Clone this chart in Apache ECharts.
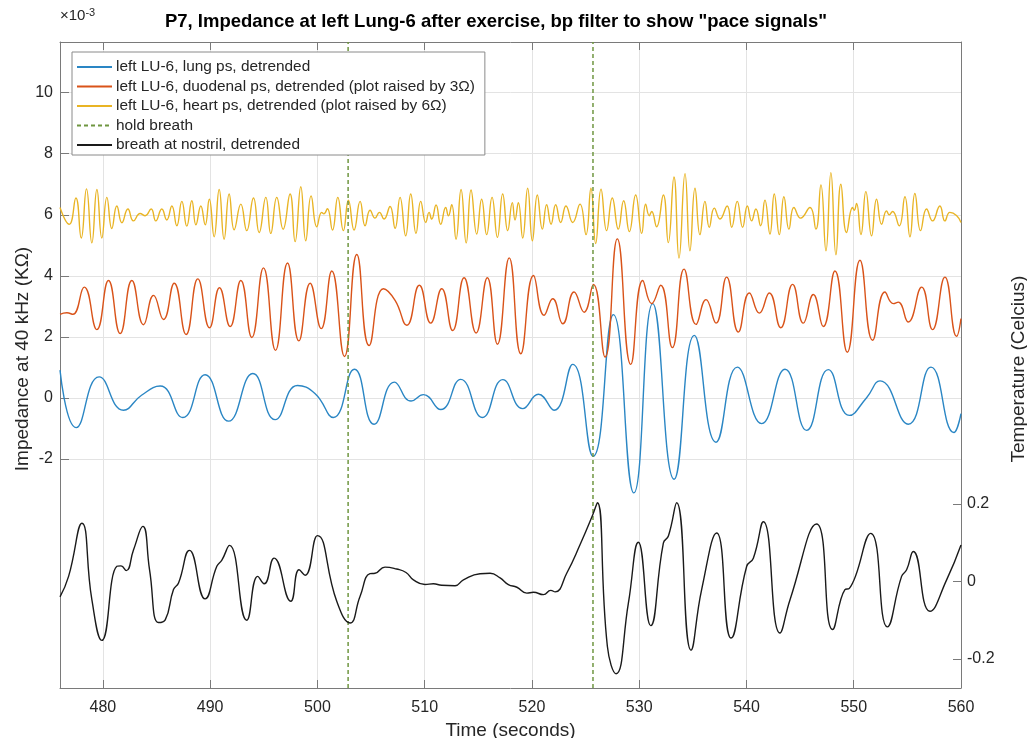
<!DOCTYPE html>
<html>
<head>
<meta charset="utf-8">
<script src="https://cdn.jsdelivr.net/npm/echarts@6/dist/echarts.min.js"></script>
<style>html,body{margin:0;padding:0;background:#fff;overflow:hidden}#c{width:1027px;height:738px}</style>
</head>
<body>
<div id="c"></div>
<script>
// ---- data ----
const xTicks = [480, 490, 500, 510, 520, 530, 540, 550, 560];
const leftTicks = [-2, 0, 2, 4, 6, 8, 10];
const rightTicks = [-0.2, 0, 0.2];
const holdBreath = [502.86, 525.69];

// lung ps (x1e-3), [time, value]
const lungPs = [
[476.0,0.91],[477.5,-0.97],[479.65,0.69],[481.92,-0.40],[483.6,0.09],[485.34,0.39],[487.45,-0.64],
[489.53,0.76],[491.71,-0.76],[493.98,0.80],[496.06,-0.71],[498.14,0.41],[499.79,0.14],[501.49,-0.64],
[503.45,0.94],[505.28,-0.86],[507.18,0.52],[508.73,-0.10],[509.88,0.11],[511.5,-0.38],[513.36,0.61],
[515.38,-0.64],[517.28,0.60],[519.14,-0.35],[520.6,0.12],[522.06,-0.40],[523.8,1.10],[525.7,-1.91],
[527.59,2.73],[529.5,-3.11],[531.26,3.09],[533.25,-2.66],[535.14,2.05],[537.16,-1.45],[539.15,1.01],
[541.42,-0.84],[543.59,0.94],[545.61,-1.06],[547.63,0.93],[549.59,-0.57],[551.2,0.01],[552.45,0.56],
[555.08,-0.86],[557.2,1.01],[559.34,-1.13],[560.0,-0.51]
];

// duodenal ps, plot raised by 3
const duodenalPs = [
[476.0,2.74],[476.64,2.79],[477.2,2.74],[478.26,3.63],[479.44,2.24],[480.52,3.85],[481.61,2.11],
[482.7,3.85],[483.79,2.40],[484.72,3.36],[485.65,2.57],[486.65,3.76],[487.76,2.08],[488.85,3.90],
[489.94,2.30],[490.87,3.61],[491.86,2.34],[492.86,3.85],[493.88,1.98],[494.97,4.26],[496.09,1.56],
[497.21,4.42],[498.27,1.87],[499.32,3.76],[500.35,2.27],[501.34,4.16],[502.52,1.36],[503.67,4.70],
[504.82,1.72],[506.15,3.58],[507.24,3.20],[508.33,2.38],[509.5,3.69],[510.56,2.45],[511.59,3.58],
[512.61,2.21],[513.67,3.94],[514.79,2.13],[515.84,3.94],[516.78,1.76],[517.88,4.59],[518.96,1.45],
[520.14,4.01],[521.13,2.71],[521.94,3.25],[522.87,2.43],[523.93,3.47],[524.86,2.81],[525.73,3.72],
[526.82,1.34],[527.96,5.21],[529.21,1.10],[530.33,3.85],[531.16,3.09],[532.0,3.69],[533.09,1.65],
[534.18,4.22],[535.3,2.41],[536.23,3.22],[537.16,2.45],[538.15,3.96],[539.24,2.16],[540.27,3.44],
[541.2,2.78],[542.13,3.44],[543.19,2.30],[544.3,3.72],[545.3,2.45],[546.23,3.39],[547.16,2.34],
[548.25,4.16],[549.4,1.50],[550.58,4.51],[551.76,1.89],[552.91,3.47],[553.69,3.09],[554.15,3.14],
[555.08,2.49],[556.33,3.63],[557.35,2.24],[558.5,3.96],[559.59,2.02],[560.0,2.60]
];

// heart ps, plot raised by 6
const heartPs = [
[476.0,6.24],[476.86,5.69],[477.48,6.55],[477.98,5.24],[478.47,6.85],[478.97,5.08],[479.44,6.83],
[479.9,5.24],[480.37,6.57],[480.83,5.55],[481.3,6.29],[481.77,5.74],[482.33,6.19],[482.85,5.80],
[483.47,6.04],[483.94,5.97],[484.5,6.19],[484.93,5.80],[485.49,6.19],[485.96,5.83],[486.43,6.29],
[486.89,5.64],[487.36,6.44],[487.82,5.63],[488.29,6.46],[488.67,5.67],[489.13,6.29],[489.54,5.67],
[489.92,6.51],[490.37,5.28],[490.84,6.83],[491.3,5.20],[491.77,6.68],[492.24,5.51],[492.86,6.35],
[493.41,5.48],[494.04,6.55],[494.57,5.42],[495.19,6.57],[495.65,5.39],[496.21,6.57],[496.8,5.53],
[497.45,6.68],[497.92,5.12],[498.45,6.92],[498.91,5.15],[499.41,6.62],[499.94,5.61],[500.4,6.08],
[500.6,6.03],[500.93,6.20],[501.4,5.50],[501.9,6.57],[502.42,5.48],[502.89,6.48],[503.42,5.50],
[503.98,6.44],[504.44,5.64],[504.91,6.15],[505.37,5.89],[505.78,6.08],[506.21,5.86],[506.77,6.27],
[507.24,5.56],[507.7,6.57],[508.23,5.31],[508.7,6.68],[509.19,5.39],[509.63,6.44],[510.1,5.75],
[510.41,6.08],[510.65,5.86],[511.06,6.32],[511.49,5.69],[511.96,6.24],[512.21,5.97],[512.52,6.33],
[512.92,5.20],[513.39,6.83],[513.87,5.08],[514.32,6.81],[514.85,5.37],[515.31,6.51],[515.78,5.35],
[516.28,6.57],[516.78,5.26],[517.27,6.68],[517.74,5.48],[518.17,6.40],[518.42,5.83],[518.73,6.40],
[519.14,5.24],[519.6,6.87],[520.04,5.15],[520.5,6.65],[520.97,5.53],[521.37,6.33],[521.78,5.69],
[522.21,6.33],[522.68,5.75],[523.17,6.29],[523.8,5.75],[524.48,6.35],[525.04,5.35],[525.5,6.87],
[525.94,5.06],[526.44,6.84],[526.96,5.48],[527.49,6.55],[528.05,5.53],[528.55,6.46],[529.08,5.45],
[529.67,6.65],[530.23,5.39],[530.6,6.35],[530.94,5.97],[531.16,6.11],[531.62,5.61],[532.25,6.65],
[532.71,5.09],[533.24,7.24],[533.71,4.58],[534.27,7.35],[534.73,4.82],[535.2,6.87],[535.66,5.35],
[536.13,6.44],[536.53,5.59],[537.0,6.22],[537.53,5.86],[538.2,6.29],[538.62,5.59],[539.14,6.44],
[539.64,5.59],[540.08,6.29],[540.48,5.80],[540.88,6.19],[541.32,5.64],[541.72,6.48],[542.19,5.37],
[542.59,6.68],[543.06,5.35],[543.49,6.59],[543.96,5.53],[544.42,6.24],[545.05,5.89],[545.92,6.24],
[546.47,5.53],[546.94,6.98],[547.41,4.82],[547.87,7.38],[548.34,4.69],[548.8,7.0],[549.33,5.42],
[549.89,6.24],[550.05,6.15],[550.26,6.37],[550.67,5.35],[551.13,6.76],[551.66,5.31],[552.13,6.51],
[552.6,5.69],[553.06,6.13],[553.31,6.0],[553.62,6.11],[554.24,5.64],[554.77,6.59],[555.24,5.28],
[555.7,6.70],[556.23,5.48],[556.79,6.19],[557.35,5.80],[558.03,6.29],[558.5,5.80],[558.96,6.08],
[559.58,5.98],[560.0,5.75]
];

// breath at nostril (Celcius), right axis
const breath = [
[476.0,-0.040],[476.8,0.013],[478.04,0.150],[478.97,-0.047],[479.9,-0.152],[481.3,0.039],[481.69,0.040],
[482.17,0.028],[482.85,0.081],[483.72,0.142],[484.35,0.030],[485.18,-0.106],[485.81,-0.099],[486.58,-0.021],
[487.05,-0.004],[488.07,0.080],[489.53,-0.045],[490.62,0.039],[491.09,0.055],[491.8,0.093],[493.41,-0.100],
[494.44,0.013],[495.03,-0.006],[495.96,0.060],[497.51,-0.051],[498.29,0.030],[498.85,0.016],[500.0,0.118],
[501.8,-0.051],[503.04,-0.107],[503.97,-0.039],[504.9,0.020],[505.37,0.021],[506.3,0.037],[507.39,0.032],
[508.26,0.023],[508.95,0.004],[510.03,-0.008],[510.81,-0.006],[511.59,-0.010],[512.83,-0.011],[513.61,0.004],
[515.16,0.020],[516.1,0.021],[517.03,0.009],[517.8,-0.008],[518.6,-0.015],[519.52,-0.030],[520.14,-0.028],
[521.07,-0.034],[521.75,-0.023],[522.16,-0.027],[523.24,0.021],[524.49,0.095],[525.67,0.172],[526.1,0.203],
[527.03,-0.167],[527.84,-0.238],[528.99,-0.056],[529.92,0.101],[531.07,-0.114],[532.25,0.099],[532.72,0.117],
[533.49,0.203],[534.83,-0.177],[535.82,-0.021],[537.22,0.125],[538.56,-0.146],[540.02,0.039],[540.64,0.060],
[541.57,0.154],[543.12,-0.133],[544.06,-0.047],[546.54,0.148],[548.03,-0.124],[549.18,-0.021],[549.59,-0.018],
[551.58,0.124],[553.13,-0.117],[554.46,0.013],[554.93,0.030],[555.55,0.077],[557.1,-0.077],[558.66,0.004],
[560.0,0.094]
];

// ---- chart ----
const X_MIN = 476, X_MAX = 560;
const YL_MIN = -9.5, YL_MAX = 11.66;
const YR_MIN = -0.2747, YR_MAX = 1.3906;
const FONT = '"Liberation Sans", Arial, Helvetica, sans-serif';
const AX = '#7a7a7a', TXT = '#262626';

const chart = echarts.init(document.getElementById('c'), null, {renderer: 'canvas', width: 1027, height: 738});

const lineSeries = (name, data, color, yIdx) => ({
  name, type: 'line', data, xAxisIndex: 0, yAxisIndex: yIdx,
  showSymbol: false, symbol: 'none', smooth: 0.5, silent: true,
  lineStyle: {color, width: 1.4}, itemStyle: {color}
});

const holdSeries = holdBreath.map(t => ({
  name: 'hold breath', type: 'line', xAxisIndex: 0, yAxisIndex: 0,
  data: [[t, YL_MIN], [t, YL_MAX]], symbol: 'none', showSymbol: false, silent: true, z: 3,
  lineStyle: {color: '#6f9640', width: 1.5, type: [4, 3]}, itemStyle: {color: '#6f9640'}
}));

chart.setOption({
  animation: false,
  backgroundColor: '#fff',
  textStyle: {fontFamily: FONT},
  grid: {left: 60, top: 42, width: 901, height: 646, containLabel: false, outerBoundsMode: 'none'},
  graphic: [
    {type: 'text', x: 496, y: 22, style: {text: 'P7, Impedance at left Lung-6 after exercise, bp filter to show "pace signals"',
      font: 'bold 18.5px ' + FONT, fill: '#000', align: 'center', verticalAlign: 'middle'}},
    {type: 'text', left: 60, top: 7, style: {text: '×10{s|-3}', font: '15px ' + FONT, fill: TXT,
      rich: {s: {fontSize: 11, verticalAlign: 'top', padding: [0,0,7,0], fontFamily: FONT, fill: TXT}}}}
  ],
  legend: {
    orient: 'vertical', left: 72, top: 52,
    data: ['left LU-6, lung ps, detrended', 'left LU-6, duodenal ps, detrended (plot raised by 3Ω)',
           'left LU-6, heart ps, detrended (plot raised by 6Ω)', 'hold breath', 'breath at nostril, detrended'],
    itemWidth: 35, itemHeight: 14, itemGap: 4.5,
    padding: [7.5, 10, 2.5, 4],
    itemStyle: {opacity: 0, borderWidth: 0},
    backgroundColor: '#fff', borderColor: '#8a8a8a', borderWidth: 1, borderRadius: 0,
    textStyle: {fontSize: 15.4, color: TXT, fontFamily: FONT, padding: [0, 0, 0, -1]},
    selectedMode: false
  },
  xAxis: [
    {type: 'value', position: 'bottom', min: X_MIN, max: X_MAX,
     name: 'Time (seconds)', nameLocation: 'middle', nameGap: 33, nameMoveOverlap: false,
     nameTextStyle: {fontSize: 19, color: TXT, fontFamily: FONT},
     axisLine: {show: true, onZero: false, lineStyle: {color: AX, width: 1}},
     axisTick: {show: true, inside: true, length: 8, customValues: xTicks, lineStyle: {color: AX}},
     axisLabel: {show: true, customValues: xTicks, fontSize: 16, color: TXT, margin: 12, fontFamily: FONT},
     splitLine: {show: true, lineStyle: {color: '#e3e3e3', width: 1}}},
    {type: 'value', position: 'top', min: X_MIN, max: X_MAX,
     axisLine: {show: true, onZero: false, lineStyle: {color: AX, width: 1}},
     axisTick: {show: true, inside: true, length: 8, customValues: xTicks, lineStyle: {color: AX}},
     axisLabel: {show: false}, splitLine: {show: false}}
  ],
  yAxis: [
    {type: 'value', position: 'left', min: YL_MIN, max: YL_MAX,
     name: 'Impedance at 40 kHz (KΩ)', nameLocation: 'middle', nameGap: 28, nameMoveOverlap: false,
     nameTextStyle: {fontSize: 19, color: TXT, fontFamily: FONT, padding: [0, 0, 0, 12]},
     axisLine: {show: true, onZero: false, lineStyle: {color: AX, width: 1}},
     axisTick: {show: true, inside: true, length: 9, customValues: leftTicks, lineStyle: {color: AX}},
     axisLabel: {show: true, customValues: leftTicks, fontSize: 16, color: TXT, margin: 7, fontFamily: FONT},
     splitLine: {show: true, lineStyle: {color: '#e3e3e3', width: 1}}},
    {type: 'value', position: 'right', min: YR_MIN, max: YR_MAX, alignTicks: false,
     name: 'Temperature (Celcius)', nameLocation: 'middle', nameGap: 48, nameMoveOverlap: false,
     nameTextStyle: {fontSize: 19, color: TXT, fontFamily: FONT, padding: [0, 8, 0, 0]},
     axisLine: {show: true, onZero: false, lineStyle: {color: AX, width: 1}},
     axisTick: {show: true, inside: true, length: 8, customValues: rightTicks, lineStyle: {color: AX}},
     axisLabel: {show: true, customValues: rightTicks, fontSize: 16, color: TXT, margin: 6, fontFamily: FONT},
     splitLine: {show: false}}
  ],
  series: [
    lineSeries('left LU-6, lung ps, detrended', lungPs, '#2a86c4', 0),
    lineSeries('left LU-6, duodenal ps, detrended (plot raised by 3Ω)', duodenalPs, '#d95319', 0),
    lineSeries('left LU-6, heart ps, detrended (plot raised by 6Ω)', heartPs, '#e9b424', 0),
    ...holdSeries,
    lineSeries('breath at nostril, detrended', breath, '#1a1a1a', 1)
  ]
});
</script>
</body>
</html>
